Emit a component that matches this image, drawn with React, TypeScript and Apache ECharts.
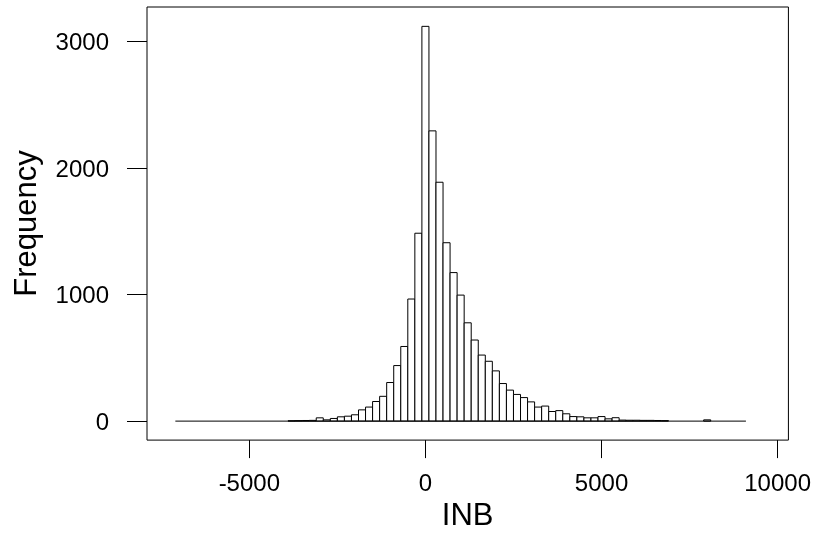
import React, { useEffect, useRef } from "react";
import * as echarts from "echarts";

// Histogram of INB: bins of width 200 starting at -7100
const binStart = -7100;
const binWidth = 200;
const counts = [
  // -7000 .. -4000
  0, 0, 0, 0, 0, 0, 0, 0, 0, 0, 0, 0, 0, 0, 0, 0,
  // -3800 .. -2000
  3, 4, 5, 6, 26, 10, 21, 34, 39, 50,
  // -1800 .. 0
  89, 111, 155, 196, 305, 439, 590, 965, 1485, 3120,
  // 200 .. 2000
  2294, 1888, 1410, 1174, 996, 777, 641, 522, 473, 397,
  // 2200 .. 4000
  297, 245, 211, 186, 152, 111, 119, 76, 83, 58,
  // 4200 .. 6000
  36, 34, 26, 26, 36, 18, 27, 8, 7, 7,
  // 6200 .. 8000
  6, 6, 5, 4, 0, 0, 0, 0, 0, 10,
  // 8200 .. 9000
  0, 0, 0, 0, 0,
];
const xTicks = [-5000, 0, 5000, 10000];
const yTicks = [0, 1000, 2000, 3000];
const xTitle = "INB";
const yTitle = "Frequency";

const FONT = "'Liberation Sans', Arial, Helvetica, sans-serif";

export default function App() {
  const ref = useRef<HTMLDivElement>(null);
  useEffect(() => {
    const chart = echarts.init(ref.current!, null, { renderer: "svg" });
    const bins = counts.map((c, i) => [binStart + i * binWidth, binStart + (i + 1) * binWidth, c]);
    const binEnd = binStart + counts.length * binWidth;
    const fmt = (v: number) => String(v);
    chart.setOption({
      animation: false,
      grid: {
        left: 147,
        right: 25,
        top: 7,
        bottom: 86,
        show: true,
        borderColor: "#000",
        borderWidth: 1,
        backgroundColor: "transparent",
      },
      xAxis: {
        type: "value",
        min: -7905,
        max: 10306,
        splitLine: { show: false },
        axisLine: { show: false, onZero: false },
        axisTick: { show: true, inside: false, length: 18, customValues: xTicks, lineStyle: { color: "#000", width: 1 } },
        axisLabel: { customValues: xTicks, formatter: fmt, margin: 30, fontSize: 24, color: "#000", fontFamily: FONT },
        name: xTitle,
        nameLocation: "middle",
        nameGap: 55,
        nameTextStyle: { fontSize: 31, color: "#000", fontFamily: FONT },
      },
      yAxis: {
        type: "value",
        min: -150,
        max: 3273,
        splitLine: { show: false },
        axisLine: { show: false, onZero: false },
        axisTick: { show: true, inside: false, length: 20, customValues: yTicks, lineStyle: { color: "#000", width: 1 } },
        axisLabel: { customValues: yTicks, formatter: fmt, margin: 38, fontSize: 24, color: "#000", fontFamily: FONT },
        name: yTitle,
        nameLocation: "middle",
        nameGap: 106,
        nameRotate: 90,
        nameTextStyle: { fontSize: 31, color: "#000", fontFamily: FONT },
      },
      series: [
        {
          type: "custom",
          data: bins,
          encode: { x: [0, 1], y: 2 },
          renderItem: (params: any, api: any) => {
            const x0 = api.value(0);
            const x1 = api.value(1);
            const c = api.value(2);
            if (!c) return { type: "group", children: [] };
            const p0 = api.coord([x0, 0]);
            const p1 = api.coord([x1, c]);
            return {
              type: "rect",
              shape: { x: p0[0], y: p1[1], width: p1[0] - p0[0], height: p0[1] - p1[1] },
              style: { fill: "#fff", stroke: "#000", lineWidth: 1 },
            };
          },
        },
        {
          type: "line",
          data: [[binStart, 0], [binEnd, 0]],
          symbol: "none",
          lineStyle: { color: "#000", width: 1 },
          z: 3,
        },
      ],
    });
    return () => chart.dispose();
  }, []);
  return <div ref={ref} style={{ position: "fixed", left: 0, top: 0, width: 814, height: 535 }} />;
}
